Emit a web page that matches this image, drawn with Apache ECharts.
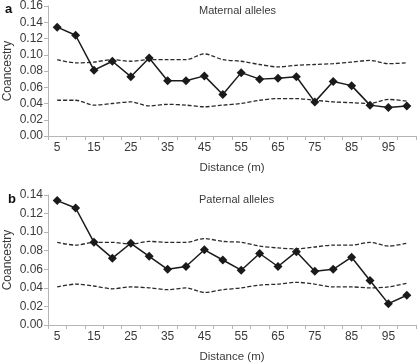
<!DOCTYPE html>
<html>
<head>
<meta charset="utf-8">
<script src="https://cdn.jsdelivr.net/npm/echarts@6/dist/echarts.min.js"></script>
<style>
  html, body { margin: 0; padding: 0; background: #fff; }
  #chart { width: 417px; height: 363px; }
</style>
</head>
<body>
<div id="chart"></div>
<script>
// distance classes (m)
const distances = ['5', '10', '15', '20', '25', '30', '35', '40', '45', '50',
  '55', '60', '65', '70', '75', '80', '85', '90', '95', '100'];

// panel a: maternal alleles
const maternalObserved = [0.134, 0.124, 0.081, 0.092, 0.073, 0.096, 0.068, 0.068, 0.074, 0.051,
  0.078, 0.070, 0.071, 0.073, 0.042, 0.067, 0.062, 0.038, 0.035, 0.037];
const maternalUpper = [0.094, 0.090, 0.091, 0.094, 0.092, 0.094, 0.094, 0.094, 0.101, 0.094,
  0.092, 0.088, 0.085, 0.087, 0.088, 0.089, 0.091, 0.093, 0.089, 0.090];
const maternalLower = [0.044, 0.044, 0.038, 0.040, 0.042, 0.037, 0.039, 0.038, 0.036, 0.038,
  0.040, 0.044, 0.046, 0.046, 0.044, 0.042, 0.041, 0.040, 0.045, 0.043];

// panel b: paternal alleles
const paternalObserved = [0.134, 0.126, 0.089, 0.072, 0.088, 0.074, 0.060, 0.063, 0.081, 0.070,
  0.059, 0.077, 0.063, 0.079, 0.058, 0.060, 0.073, 0.048, 0.023, 0.032];
const paternalUpper = [0.089, 0.086, 0.089, 0.089, 0.087, 0.090, 0.089, 0.089, 0.093, 0.090,
  0.089, 0.085, 0.083, 0.082, 0.084, 0.086, 0.086, 0.089, 0.085, 0.088];
const paternalLower = [0.041, 0.044, 0.042, 0.039, 0.041, 0.040, 0.038, 0.040, 0.035, 0.038,
  0.040, 0.043, 0.044, 0.046, 0.044, 0.041, 0.041, 0.040, 0.041, 0.045];

const FONT = 'Liberation Sans, Arial, sans-serif';
const axisGray = '#b5b5b5';
const textColor = '#3a3a3a';

const chart = echarts.init(document.getElementById('chart'));

function xAxisFor(gridIndex) {
  return {
    type: 'category',
    gridIndex,
    data: distances,
    boundaryGap: true,
    name: 'Distance (m)',
    nameLocation: 'middle',
    nameGap: 26,
    nameMoveOverlap: false,
    nameTextStyle: { fontFamily: FONT, fontSize: 11.5, color: textColor },
    axisLine: { lineStyle: { color: axisGray, width: 1 } },
    axisTick: { show: true, interval: 0, length: 4, lineStyle: { color: axisGray } },
    axisLabel: { interval: 1, fontFamily: FONT, fontSize: 12, color: textColor, margin: 6 },
    splitLine: { show: false }
  };
}

function yAxisFor(gridIndex, max) {
  return {
    type: 'value',
    gridIndex,
    min: 0,
    max,
    interval: 0.02,
    name: 'Coancestry',
    nameLocation: 'middle',
    nameGap: 34,
    nameMoveOverlap: false,
    nameTextStyle: { fontFamily: FONT, fontSize: 12, color: textColor },
    axisLine: { show: true, lineStyle: { color: axisGray, width: 1 } },
    axisTick: { show: true, length: 4, lineStyle: { color: axisGray } },
    axisLabel: {
      fontFamily: FONT, fontSize: 12, color: textColor, margin: 5,
      formatter: (v) => v.toFixed(2)
    },
    splitLine: { show: false }
  };
}

function observed(idx, values) {
  return {
    type: 'line',
    xAxisIndex: idx,
    yAxisIndex: idx,
    data: values,
    symbol: 'diamond',
    symbolSize: 9,
    itemStyle: { color: '#1a1a1a' },
    lineStyle: { color: '#1a1a1a', width: 1.5 },
    z: 3
  };
}

function envelope(idx, values) {
  return {
    type: 'line',
    xAxisIndex: idx,
    yAxisIndex: idx,
    data: values,
    symbol: 'none',
    smooth: 0.3,
    lineStyle: { color: '#2a2a2a', width: 1.3, type: [4, 2] },
    z: 2
  };
}

const option = {
  backgroundColor: '#fff',
  animation: false,
  grid: [
    { left: 48, top: 6, width: 368, height: 130, outerBoundsMode: 'none' },
    { left: 48, top: 195, width: 368, height: 130, outerBoundsMode: 'none' }
  ],
  xAxis: [xAxisFor(0), xAxisFor(1)],
  yAxis: [yAxisFor(0, 0.16), yAxisFor(1, 0.14)],
  title: [
    { text: 'a', left: 0, top: -2, textStyle: { fontFamily: FONT, fontSize: 13, fontWeight: 'bold', color: '#111' } },
    { text: 'Maternal alleles', left: 194, top: 0, textStyle: { fontFamily: FONT, fontSize: 11, fontWeight: 'normal', color: textColor } },
    { text: 'b', left: 3, top: 188, textStyle: { fontFamily: FONT, fontSize: 13, fontWeight: 'bold', color: '#111' } },
    { text: 'Paternal alleles', left: 194, top: 189, textStyle: { fontFamily: FONT, fontSize: 11, fontWeight: 'normal', color: textColor } }
  ],
  series: [
    envelope(0, maternalUpper),
    envelope(0, maternalLower),
    observed(0, maternalObserved),
    envelope(1, paternalUpper),
    envelope(1, paternalLower),
    observed(1, paternalObserved)
  ]
};

chart.setOption(option);
</script>
</body>
</html>
